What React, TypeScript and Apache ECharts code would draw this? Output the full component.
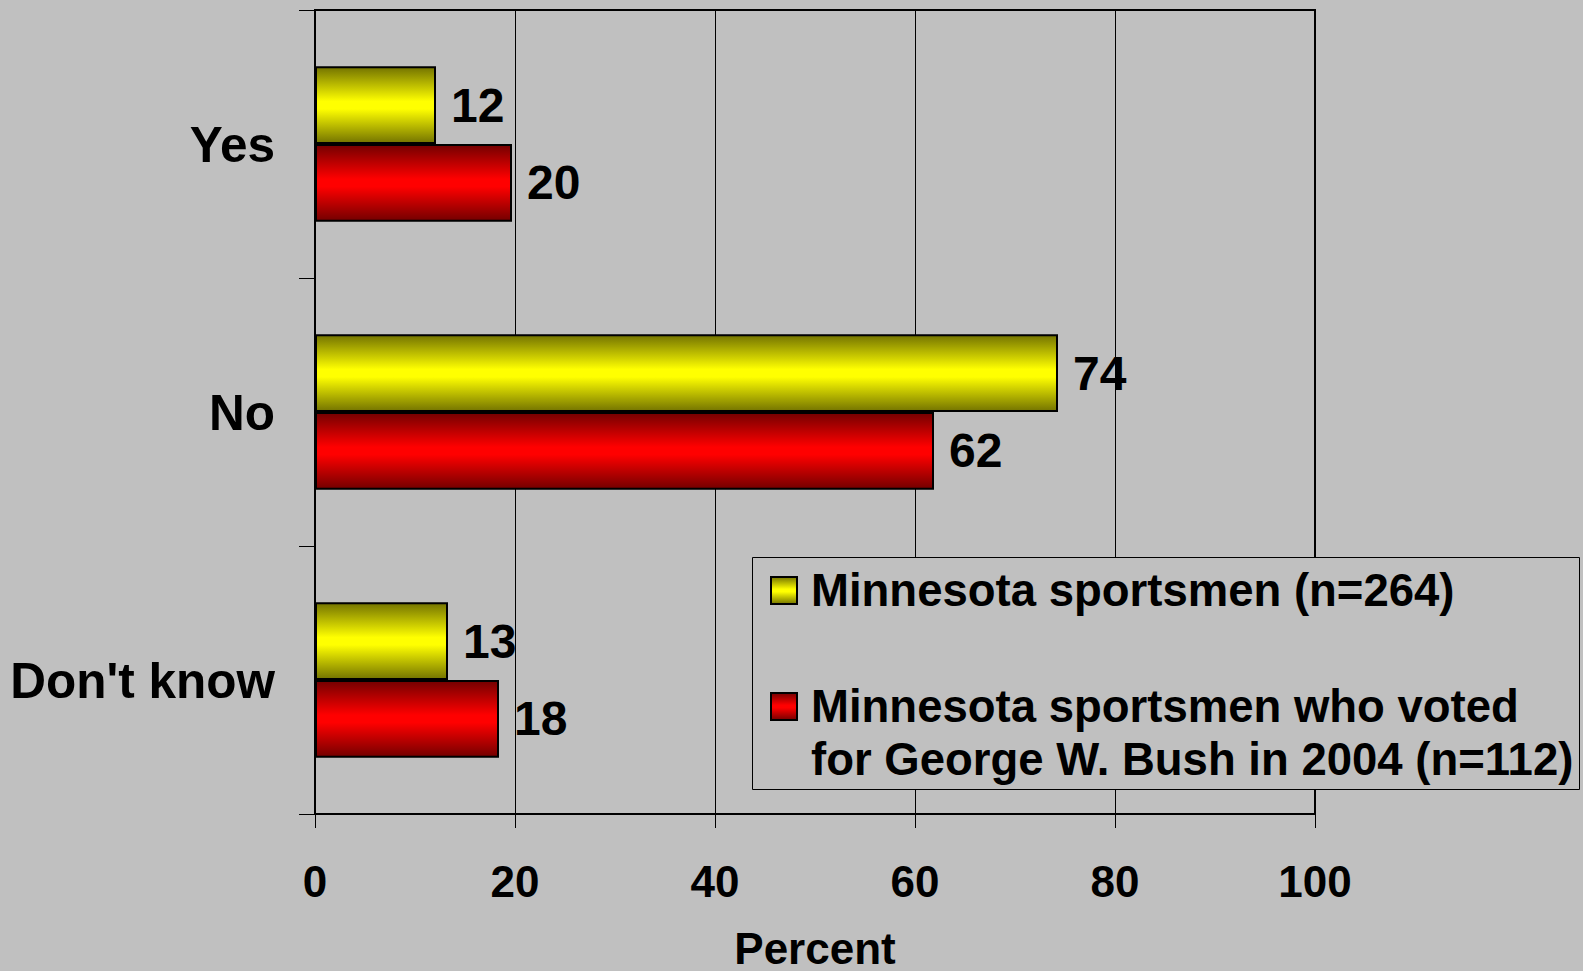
import React, { useEffect, useRef } from "react";
import * as echarts from "echarts";

const categories = ["Yes", "No", "Don't know"];
const seriesNames = [
  "Minnesota sportsmen (n=264)",
  "Minnesota sportsmen who voted for George W. Bush in 2004 (n=112)",
];
const allSportsmen = [12.1, 74.3, 13.3];
const bushVoters = [19.7, 61.9, 18.4];
const xTicks = [0, 20, 40, 60, 80, 100];
const legendLines = [
  ["Minnesota sportsmen (n=264)"],
  ["Minnesota sportsmen who voted", "for George W. Bush in 2004 (n=112)"],
];

const FONT = "'Liberation Sans', Arial, Helvetica, sans-serif";

function grad(dark: string, bright: string) {
  return new echarts.graphic.LinearGradient(0, 0, 0, 1, [
    { offset: 0, color: dark },
    { offset: 0.45, color: bright },
    { offset: 0.55, color: bright },
    { offset: 1, color: dark },
  ]);
}

export default function App() {
  const ref = useRef<HTMLDivElement>(null);
  useEffect(() => {
    if (!ref.current) return;
    const chart = echarts.init(ref.current, undefined, { renderer: "svg" });
    const yellow = grad("#747400", "#FFFF00");
    const red = grad("#740000", "#FF0000");
    const labelCfg = {
      show: true,
      position: "right",
      distance: 15,
      color: "#000",
      fontSize: 48,
      fontWeight: "bold",
      fontFamily: FONT,
      padding: [6, 0, 0, 0],
      formatter: (p: any) => String(Math.round(p.value)),
    };
    const legendItems: any[] = [];
    const itemTops = [577, 693];
    const fills = [yellow, red];
    legendLines.forEach((lines, i) => {
      legendItems.push({
        type: "rect",
        z: 101,
        shape: { x: 771, y: itemTops[i], width: 26, height: 27 },
        style: { fill: fills[i], stroke: "#000", lineWidth: 2 },
      });
      lines.forEach((ln, j) => {
        legendItems.push({
          type: "text",
          z: 101,
          x: 811,
          y: itemTops[i] + 13.5 + j * 53,
          style: {
            text: ln,
            fill: "#000",
            font: `bold 45.5px ${FONT}`,
            verticalAlign: "middle",
            align: "left",
          },
        });
      });
    });
    chart.setOption({
      animation: false,
      backgroundColor: "#C0C0C0",
      grid: {
        left: 315,
        right: 268,
        top: 10,
        bottom: 157,
        outerBoundsMode: "none",
        containLabel: false,
        show: true,
        borderColor: "#000",
        borderWidth: 2,
        backgroundColor: "transparent",
      },
      xAxis: {
        type: "value",
        min: xTicks[0],
        max: xTicks[xTicks.length - 1],
        interval: xTicks[1] - xTicks[0],
        name: "Percent",
        nameLocation: "middle",
        nameGap: 112,
        nameTextStyle: { color: "#000", fontSize: 44, fontWeight: "bold", fontFamily: FONT },
        axisLine: { show: true, lineStyle: { color: "#000", width: 2 } },
        axisTick: { show: true, length: 14, lineStyle: { color: "#000", width: 1 } },
        axisLabel: { color: "#000", fontSize: 44, fontWeight: "bold", fontFamily: FONT, margin: 45 },
        splitLine: { show: true, lineStyle: { color: "#000", width: 1 } },
      },
      yAxis: {
        type: "category",
        data: categories,
        inverse: true,
        axisLine: { show: true, lineStyle: { color: "#000", width: 2 } },
        axisTick: { show: true, length: 16, lineStyle: { color: "#000", width: 1 } },
        axisLabel: {
          color: "#000",
          fontSize: 49.5,
          fontWeight: "bold",
          fontFamily: FONT,
          margin: 40,
          padding: [10, 0, 0, 0],
        },
        splitLine: { show: false },
      },
      series: [
        {
          name: seriesNames[0],
          type: "bar",
          data: allSportsmen,
          barGap: "0%",
          barCategoryGap: "42%",
          itemStyle: { color: yellow, borderColor: "#000", borderWidth: 2 },
          label: labelCfg,
        },
        {
          name: seriesNames[1],
          type: "bar",
          data: bushVoters,
          barGap: "0%",
          barCategoryGap: "42%",
          itemStyle: { color: red, borderColor: "#000", borderWidth: 2 },
          label: labelCfg,
        },
      ],
      graphic: [
        {
          type: "rect",
          z: 100,
          shape: { x: 752.5, y: 557.5, width: 827, height: 232 },
          style: { fill: "#C0C0C0", stroke: "#000", lineWidth: 1 },
        },
        ...legendItems,
      ],
    });
    return () => chart.dispose();
  }, []);
  return (
    <div
      ref={ref}
      style={{ position: "absolute", left: 0, top: 0, width: 1583, height: 971 }}
    />
  );
}
